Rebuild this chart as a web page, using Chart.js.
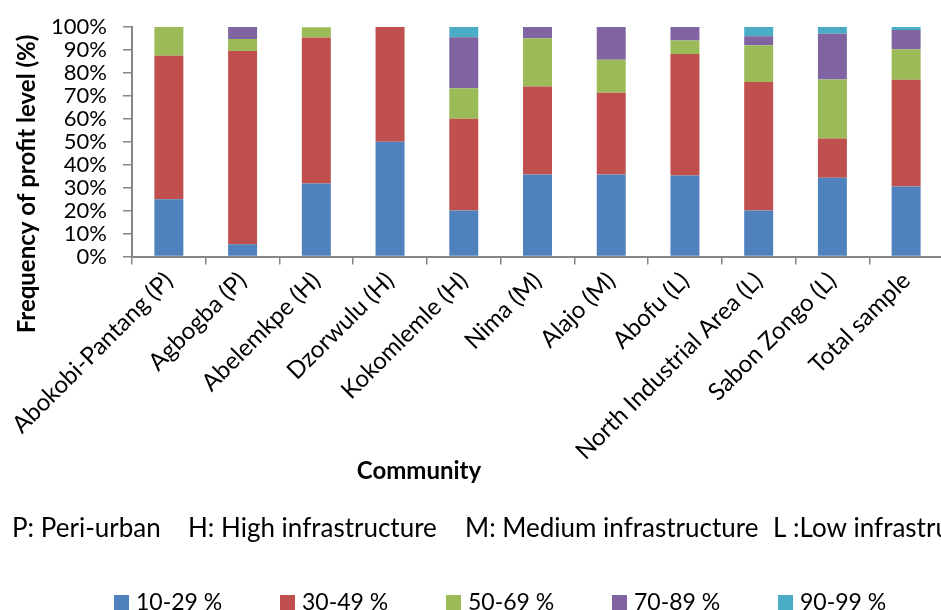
<!DOCTYPE html>
<html>
<head>
<meta charset="utf-8">
<script src="https://cdn.jsdelivr.net/npm/chart.js@4.4.1/dist/chart.umd.min.js"></script>
<style>
  html, body { margin: 0; padding: 0; background: #fff; overflow: hidden; }
  #wrap { width: 941px; height: 610px; overflow: hidden; }
</style>
</head>
<body>
<div id="wrap"><canvas id="profitChart" width="960" height="610"></canvas></div>
<script>
// communities on the x axis
const communities = [
  'Abokobi-Pantang (P)', 'Agbogba (P)', 'Abelemkpe (H)', 'Dzorwulu (H)',
  'Kokomlemle (H)', 'Nima (M)', 'Alajo (M)', 'Abofu (L)',
  'North Industrial Area (L)', 'Sabon Zongo (L)', 'Total sample'
];

// share of respondents (%) in each profit band
const band10to29 = [25.0, 5.3, 31.8, 50.0, 20.0, 35.7, 35.7, 35.3, 20.0, 34.3, 30.5];
const band30to49 = [62.5, 84.2, 63.6, 50.0, 40.0, 38.4, 35.7, 52.9, 56.0, 17.1, 46.5];
const band50to69 = [12.5, 5.3, 4.5, 0, 13.3, 21.0, 14.3, 5.9, 16.0, 25.7, 13.3];
const band70to89 = [0, 5.3, 0, 0, 22.2, 4.9, 14.3, 5.9, 4.0, 20.0, 8.4];
const band90to99 = [0, 0, 0, 0, 4.5, 0, 0, 0, 4.0, 2.9, 1.3];

const bandLabels = ['10-29 %', '30-49 %', '50-69 %', '70-89 %', '90-99 %'];
const bandColors = ['#4F81BD', '#C0504D', '#9BBB59', '#8064A2', '#4BACC6'];

const yTicks = [0, 10, 20, 30, 40, 50, 60, 70, 80, 90, 100];

const FONT = 'Lato, "Open Sans", sans-serif';
const AXIS_GREY = '#868686';

// titles, key note and legend sit outside the plot, drawn by hand
const extras = {
  id: 'extras',
  afterDraw(chart) {
    const ctx = chart.ctx;
    ctx.save();
    ctx.fillStyle = '#000';

    // y title
    ctx.save();
    ctx.translate(27, 184);
    ctx.rotate(-Math.PI / 2);
    ctx.font = 'bold 24px ' + FONT;
    ctx.textAlign = 'center';
    ctx.textBaseline = 'middle';
    ctx.fillText('Frequency of profit level (%)', 0, 0);
    ctx.restore();

    // x title
    ctx.font = 'bold 24px ' + FONT;
    ctx.textAlign = 'center';
    ctx.textBaseline = 'middle';
    ctx.fillText('Community', 419, 471);

    // key to the letters after each community
    ctx.font = '26px ' + FONT;
    ctx.textAlign = 'left';
    ctx.textBaseline = 'alphabetic';
    ctx.fillText('P: Peri-urban', 12, 537);
    ctx.fillText('H: High infrastructure', 188, 537);
    ctx.fillText('M: Medium infrastructure', 465, 537);
    ctx.fillText('L :Low infrastructure', 773, 537);

    // legend
    ctx.font = '23px ' + FONT;
    chart.data.datasets.forEach((ds, i) => {
      const x = 114 + i * 166;
      ctx.fillStyle = ds.backgroundColor;
      ctx.fillRect(x, 595, 15, 15);
      ctx.fillStyle = '#000';
      ctx.fillText(ds.label, x + 22, 610);
    });
    ctx.restore();
  }
};

const series = [band10to29, band30to49, band50to69, band70to89, band90to99];

new Chart(document.getElementById('profitChart'), {
  type: 'bar',
  data: {
    labels: communities,
    datasets: series.map((vals, i) => ({
      label: bandLabels[i],
      data: vals,
      backgroundColor: bandColors[i],
      borderWidth: 0,
      barPercentage: 0.393,
      categoryPercentage: 1.0
    }))
  },
  options: {
    responsive: false,
    animation: false,
    devicePixelRatio: 1,
    layout: { padding: { top: 27, right: 17, bottom: 0, left: 0 } },
    plugins: {
      legend: { display: false },
      tooltip: { enabled: false }
    },
    scales: {
      x: {
        stacked: true,
        afterFit: s => { s.height = 353.5; },
        border: { color: AXIS_GREY, width: 2 },
        grid: {
          offset: true,
          drawOnChartArea: false,
          drawTicks: true,
          tickLength: 8,
          color: AXIS_GREY,
          lineWidth: 1.5
        },
        ticks: {
          autoSkip: false,
          minRotation: 45,
          maxRotation: 45,
          padding: 2,
          color: '#000',
          font: { family: FONT, size: 24 }
        }
      },
      y: {
        stacked: true,
        min: 0,
        max: 100,
        afterFit: s => { s.width = 132; },
        afterBuildTicks: s => { s.ticks = yTicks.map(v => ({ value: v })); },
        border: { color: AXIS_GREY, width: 2 },
        grid: {
          drawOnChartArea: false,
          drawTicks: true,
          tickLength: 9,
          color: AXIS_GREY,
          lineWidth: 1.5
        },
        ticks: {
          autoSkip: false,
          padding: 16,
          color: '#000',
          font: { family: FONT, size: 22, lineHeight: 1 },
          callback: v => v + '%'
        }
      }
    }
  },
  plugins: [extras]
});
</script>
</body>
</html>
